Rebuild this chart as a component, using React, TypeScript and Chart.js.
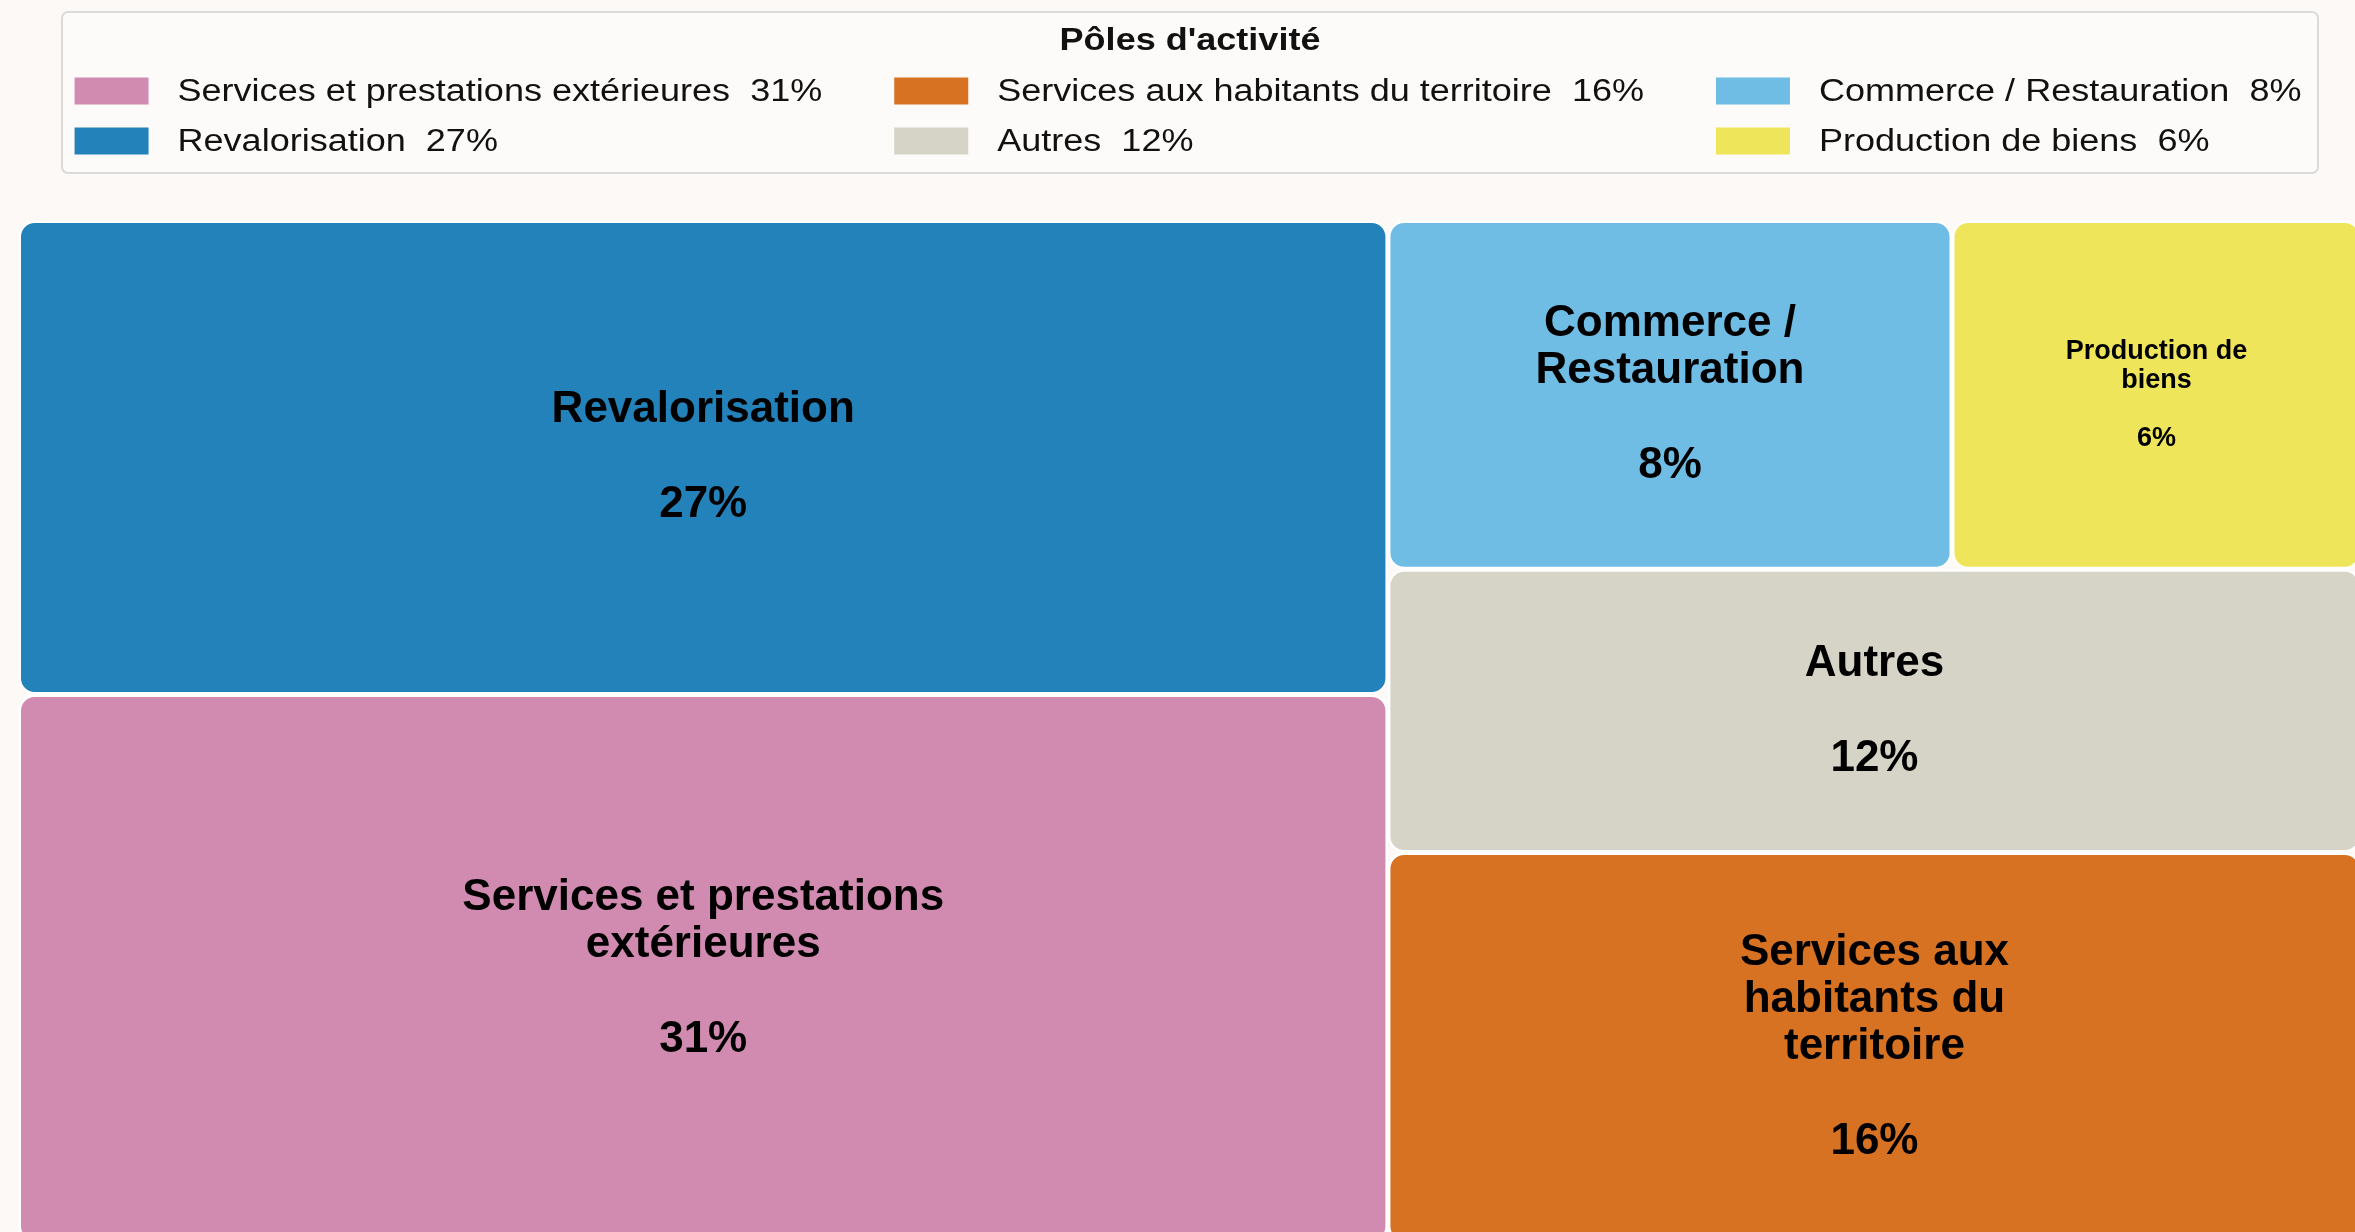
import React, { useEffect, useRef } from "react";
import { Chart, registerables } from "chart.js";

Chart.register(...registerables);

// ---------- data ----------
const LEGEND_TITLE = "Pôles d'activité";
const categories = [
  "Services et prestations extérieures",
  "Revalorisation",
  "Services aux habitants du territoire",
  "Autres",
  "Commerce / Restauration",
  "Production de biens",
];
// shares (%) estimated from tile areas; displayed rounded
const shares = [31.35, 27.11, 15.85, 11.51, 8.22, 5.96];
const tileLabels = [
  ["Services et prestations", "extérieures"],
  ["Revalorisation"],
  ["Services aux", "habitants du", "territoire"],
  ["Autres"],
  ["Commerce /", "Restauration"],
  ["Production de", "biens"],
];
// tiling: columns (left→right), cells stacked bottom→top, nested arrays side by side
const tiling: any[] = [
  [0, 1],
  [2, 3, [4, 5]],
];

// ---------- styles ----------
const colors = ["#d28bb0", "#2482ba", "#d87223", "#d6d3c7", "#6fbde4", "#efe55b"];
const BG = "#fdf9f6";
const FONT = "'Liberation Sans', Arial, Helvetica, sans-serif";
const CW = 2400;
const CH = 1280;

type Cell = { i: number; x0: number; x1: number; y0: number; y1: number };

function sumOf(n: any): number {
  return Array.isArray(n) ? n.reduce((a: number, c: any) => a + sumOf(c), 0) : shares[n];
}

function computeLayout(): Cell[] {
  const total = shares.reduce((a, b) => a + b, 0);
  const out: Cell[] = [];
  let x = 0;
  for (const col of tiling) {
    const cs = sumOf(col);
    const x1 = x + (100 * cs) / total;
    let y = 0;
    for (const cell of col) {
      const s = sumOf(cell);
      const y1 = y + (100 * s) / cs;
      if (Array.isArray(cell)) {
        let xx = x;
        for (const j of cell) {
          const w = ((x1 - x) * shares[j]) / s;
          out.push({ i: j, x0: xx, x1: xx + w, y0: y, y1 });
          xx += w;
        }
      } else {
        out.push({ i: cell, x0: x, x1, y0: y, y1 });
      }
      y = y1;
    }
    x = x1;
  }
  return out;
}

const cells = computeLayout();

function stretchText(ctx: CanvasRenderingContext2D, text: string, x: number, y: number, sx: number) {
  ctx.save();
  ctx.translate(x, y);
  ctx.scale(sx, 1);
  ctx.fillText(text, 0, 0);
  ctx.restore();
}

const backgroundPlugin = {
  id: "bg",
  beforeDraw(chart: any) {
    const ctx = chart.ctx as CanvasRenderingContext2D;
    ctx.save();
    ctx.fillStyle = BG;
    ctx.fillRect(0, 0, chart.width, chart.height);
    ctx.restore();
  },
};

const treemapPlugin = {
  id: "treemapTiles",
  afterDatasetsDraw(chart: any) {
    const ctx = chart.ctx as CanvasRenderingContext2D;
    const xs = chart.scales.x;
    const ys = chart.scales.y;
    ctx.save();
    for (const c of cells) {
      const px0 = xs.getPixelForValue(c.x0);
      const px1 = xs.getPixelForValue(c.x1);
      const py0 = ys.getPixelForValue(c.y1);
      const py1 = ys.getPixelForValue(c.y0);
      const inset = 1.25;
      ctx.beginPath();
      (ctx as any).roundRect(px0 + inset, py0 + inset, px1 - px0 - 2 * inset, py1 - py0 - 2 * inset, 15);
      ctx.fillStyle = colors[c.i];
      ctx.fill();
      ctx.lineWidth = 2.5;
      ctx.strokeStyle = "#ffffff";
      ctx.stroke();

      // labels
      const w = px1 - px0;
      const fs = w < 450 ? 27 : 44;
      const lh = fs * 1.07;
      const gap = fs * 2.16;
      const lines = tileLabels[c.i];
      const blockH = (lines.length - 1) * lh + gap;
      const cx = (px0 + px1) / 2;
      const cy = (py0 + py1) / 2;
      let y = cy - blockH / 2;
      ctx.fillStyle = "#000000";
      ctx.font = `bold ${fs}px ${FONT}`;
      ctx.textAlign = "center";
      ctx.textBaseline = "middle";
      for (const ln of lines) {
        ctx.fillText(ln, cx, y);
        y += lh;
      }
      y += gap - lh;
      ctx.fillText(`${Math.round(shares[c.i])}%`, cx, y);
    }
    ctx.restore();
  },
};

const legendPlugin = {
  id: "boxLegend",
  afterDraw(chart: any) {
    const ctx = chart.ctx as CanvasRenderingContext2D;
    const sx = 1.162;
    ctx.save();
    // frame
    ctx.beginPath();
    (ctx as any).roundRect(62, 12, 2256, 161, 6);
    ctx.fillStyle = "#fdfbf9";
    ctx.fill();
    ctx.lineWidth = 2;
    ctx.strokeStyle = "#dadada";
    ctx.stroke();

    // title
    ctx.fillStyle = "#111111";
    ctx.textBaseline = "middle";
    ctx.textAlign = "left";
    ctx.font = `bold 31px ${FONT}`;
    const tw = ctx.measureText(LEGEND_TITLE).width * sx;
    stretchText(ctx, LEGEND_TITLE, 1190 - tw / 2, 41, sx);

    // items: column-major, 2 rows
    ctx.font = `31px ${FONT}`;
    const rows = 2;
    const ncol = Math.ceil(categories.length / rows);
    const texts = categories.map((c, i) => `${c}  ${Math.round(shares[i])}%`);
    const colW: number[] = [];
    for (let col = 0; col < ncol; col++) {
      let m = 0;
      for (let r = 0; r < rows; r++) {
        const i = col * rows + r;
        if (i < texts.length) m = Math.max(m, ctx.measureText(texts[i]).width * sx);
      }
      colW.push(74 + 29 + m);
    }
    const colGap = 72;
    const total = colW.reduce((a, b) => a + b, 0) + colGap * (ncol - 1);
    let x = 1188 - total / 2;
    const rowY = [91, 141];
    for (let col = 0; col < ncol; col++) {
      for (let r = 0; r < rows; r++) {
        const i = col * rows + r;
        if (i >= texts.length) continue;
        ctx.fillStyle = colors[i];
        ctx.fillRect(x, rowY[r] - 13.5, 74, 27);
        ctx.fillStyle = "#111111";
        stretchText(ctx, texts[i], x + 103, rowY[r] + 1, sx);
      }
      x += colW[col] + colGap;
    }
    ctx.restore();
  },
};

export default function App() {
  const ref = useRef<HTMLCanvasElement>(null);
  useEffect(() => {
    const canvas = ref.current!;
    const chart = new Chart(canvas, {
      type: "scatter",
      data: {
        datasets: [
          {
            label: LEGEND_TITLE,
            data: cells.map((c) => ({ x: (c.x0 + c.x1) / 2, y: (c.y0 + c.y1) / 2 })),
            pointRadius: 0,
            pointHoverRadius: 0,
            backgroundColor: cells.map((c) => colors[c.i]),
          },
        ],
      },
      options: {
        animation: false,
        responsive: false,
        maintainAspectRatio: false,
        devicePixelRatio: 1,
        events: [],
        layout: {
          padding: { left: 18.5, top: 220.5, right: CW - 2361, bottom: CH - 1242.5 },
        },
        scales: {
          x: { type: "linear", min: 0, max: 100, display: false },
          y: { type: "linear", min: 0, max: 100, display: false },
        },
        plugins: {
          legend: { display: false },
          tooltip: { enabled: false },
          title: { display: false },
        },
      },
      plugins: [backgroundPlugin, treemapPlugin, legendPlugin],
    } as any);
    return () => chart.destroy();
  }, []);
  return (
    <div
      style={{
        position: "absolute",
        left: 0,
        top: 0,
        width: 2355,
        height: 1232,
        overflow: "hidden",
        background: BG,
      }}
    >
      <canvas ref={ref} width={CW} height={CH} style={{ display: "block", width: CW, height: CH }} />
    </div>
  );
}
